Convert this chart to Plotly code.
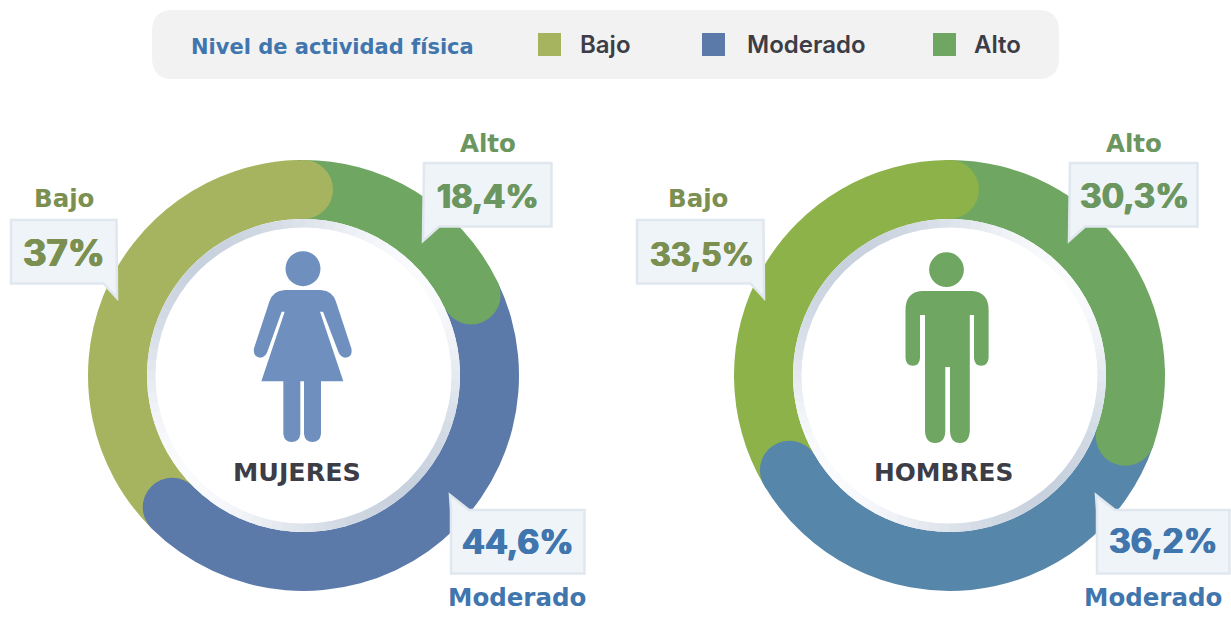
import math
import numpy as np
import plotly.graph_objects as go

W, H = 1231, 619

# ---------- data ----------
categories = ["Alto", "Moderado", "Bajo"]
mujeres_values = [18.4, 44.6, 37]
hombres_values = [30.3, 36.2, 33.5]
group_names = ["MUJERES", "HOMBRES"]
legend_title = "Nivel de actividad física"
legend_labels = ["Bajo", "Moderado", "Alto"]

# ---------- style ----------
FONT = "Inter"
WIDE = "DejaVu Sans"
DARK = "#3c3d47"
BLUE = "#4076ad"
GREEN_LBL = "#6c9660"
OLIVE_LBL = "#7a8f50"
mujeres_colors = ["#6ea662", "#5b79a9", "#a7b45f"]
hombres_colors = ["#6ea662", "#5786ab", "#8db24a"]
legend_colors = ["#a7b45f", "#5b79a9", "#6ea662"]

CY = 375.5
R_OUT = 215.5
R_BEZ = 156.5
R_WHITE = 148.0
R_MID = (R_OUT + R_BEZ) / 2
R_CAP = (R_OUT - R_BEZ) / 2


def px(x):
    return x / W


def py(y):
    return 1 - y / H


def P(*tok):
    """Build a paper-space SVG path from pixel coordinates."""
    out, is_x = [], True
    for t in tok:
        if isinstance(t, str):
            out.append(t)
            is_x = True
        else:
            out.append(f"{px(t) if is_x else py(t):.5f}")
            is_x = not is_x
    return " ".join(out)


shapes, annots = [], []


def add_path(path, fill, line=None, lw=0):
    shapes.append(dict(type="path", xref="paper", yref="paper", path=path, fillcolor=fill,
                       line=dict(color=line or "rgba(0,0,0,0)", width=lw), layer="above"))


def add_circle(cx, cy, r, fill, ry=None):
    ry = ry or r
    shapes.append(dict(type="circle", xref="paper", yref="paper",
                       x0=px(cx - r), x1=px(cx + r), y0=py(cy + ry), y1=py(cy - ry),
                       fillcolor=fill, line=dict(width=0), layer="above"))


def add_rect(x0, y0, x1, y1, fill):
    shapes.append(dict(type="rect", xref="paper", yref="paper",
                       x0=px(x0), x1=px(x1), y0=py(y1), y1=py(y0),
                       fillcolor=fill, line=dict(width=0), layer="above"))


def add_text(x, y, text, size, color, weight=700, anchor="center", family=FONT, heavy=False):
    font = dict(family=family, size=size, color=color, weight=weight)
    if heavy:
        font["shadow"] = f"0.7px 0 0 {color}, -0.7px 0 0 {color}"
    annots.append(dict(xref="paper", yref="paper", x=px(x), y=py(y), text=text, showarrow=False,
                       xanchor=anchor, yanchor="middle", font=font))


def round_rect(x0, y0, x1, y1, r, fill):
    add_path(P("M", x0 + r, y0, "L", x1 - r, y0, "Q", x1, y0, x1, y0 + r, "L", x1, y1 - r,
               "Q", x1, y1, x1 - r, y1, "L", x0 + r, y1, "Q", x0, y1, x0, y1 - r,
               "L", x0, y0 + r, "Q", x0, y0, x0 + r, y0, "Z"), fill)


def bezel(cx):
    n = 90
    for i in range(n):
        a0, a1 = 2 * math.pi * i / n, 2 * math.pi * (i + 1.15) / n
        t = 0.5 + 0.5 * math.cos(2 * ((a0 + a1) / 2 - math.radians(50)))
        c0, c1 = np.array([0xc8, 0xd2, 0xde]), np.array([0xfa, 0xfb, 0xfd])
        c = c0 + (c1 - c0) * t
        pts = []
        for r, a in ((R_BEZ, a0), (R_BEZ, a1), (R_WHITE - 0.5, a1), (R_WHITE - 0.5, a0)):
            pts.append((cx + r * math.sin(a), CY - r * math.cos(a)))
        add_path(P("M", *pts[0], "L", *pts[1], "L", *pts[2], "L", *pts[3], "Z"),
                 f"rgb({c[0]:.0f},{c[1]:.0f},{c[2]:.0f})")


def caps(cx, values, colors, rotation):
    cum = np.cumsum(values)
    for i, (v, col) in enumerate(zip(cum, colors)):
        # the closing cap always sits at twelve o'clock
        off = 0 if i == len(values) - 1 else rotation
        a = 2 * math.pi * v / sum(values) + math.radians(off)
        add_circle(cx + R_MID * math.sin(a), CY - R_MID * math.cos(a), R_CAP, col)


def callout(x0, y0, x1, y1, side, tip):
    fill, border = "#eff4f8", "#e0e7ee"
    x0 += 1; y0 += 1; x1 -= 0.5; y1 -= 0.5
    if side == "bl":      # pointer from the lower-left corner
        path = P("M", x0, y0, "L", x1, y0, "L", x1, y1, "L", x0 + 15, y1, "L", *tip, "Z")
    elif side == "br":    # pointer from the lower-right corner
        path = P("M", x0, y0, "L", x1, y0, "L", *tip, "L", x1 - 13, y1, "L", x0, y1, "Z")
    else:                 # pointer from the upper-left corner
        path = P("M", x0, y0 - 0, "L", *tip, "L", x0 + 18, y0, "L", x1, y0, "L", x1, y1, "L", x0, y1, "Z")
    add_path(path, fill, border, 2.5)


def woman():
    add_circle(303, 268.7, 17.5, "#6f90bf")
    Z = lambda x, y: (x / 3 + 230, y / 3 + 240)
    add_path(P("M", *Z(165, 150), "Q", *Z(128, 152), *Z(118, 185), "L", *Z(72, 325),
               "Q", *Z(68, 350), *Z(90, 353), "Q", *Z(106, 352), *Z(112, 335),
               "L", *Z(155, 215), "L", *Z(164, 215), "L", *Z(94, 424), "L", *Z(160, 424),
               "L", *Z(160, 582), "Q", *Z(163, 606), *Z(185, 606), "Q", *Z(208, 606), *Z(211, 582),
               "L", *Z(211, 424), "L", *Z(222, 424), "L", *Z(222, 582), "Q", *Z(225, 606), *Z(247, 606),
               "Q", *Z(270, 606), *Z(273, 582), "L", *Z(273, 424), "L", *Z(340, 424), "L", *Z(270, 215),
               "L", *Z(279, 215), "L", *Z(325, 335), "Q", *Z(331, 352), *Z(347, 353),
               "Q", *Z(369, 350), *Z(364, 325), "L", *Z(318, 185), "Q", *Z(308, 152), *Z(272, 150), "Z"),
             "#6f90bf")


def man():
    c = "#6ea662"
    add_circle(946.5, 269.7, 17.4, c)
    add_path(P("M", 922, 291, "L", 972, 291, "Q", 988.6, 292, 988.6, 310, "L", 988.6, 358,
               "Q", 988, 365.7, 981, 365.7, "Q", 974.5, 365.7, 974, 358, "L", 974, 315, "L", 969.8, 315,
               "L", 969.8, 431, "Q", 969, 443, 960, 443, "Q", 950.5, 443, 950, 431, "L", 950, 367,
               "L", 945.3, 367, "L", 945.3, 431, "Q", 945, 443, 935, 443, "Q", 925.5, 443, 925, 431,
               "L", 925, 315, "L", 920, 315, "L", 920, 358, "Q", 919.5, 365.7, 913, 365.7,
               "Q", 906, 365.7, 905.5, 358, "L", 905.5, 310, "Q", 905.5, 292, 922, 291, "Z"), c)


def pct(v):
    return f"{v:g}".replace(".", ",") + "%"


# ---------- legend band ----------
round_rect(152, 10, 1059, 79, 21, "#f2f2f2")
add_text(332, 47, legend_title, 21, BLUE, family=WIDE)
for sx, tx, name, col in zip((538, 702, 933), (578, 745, 972), legend_labels, legend_colors):
    add_rect(sx, 33, sx + 23, 56, col)
    add_text(tx, 45, name, 24, DARK, 600, "left")

# ---------- rings ----------
fig = go.Figure()
panels = [
    (303.5, mujeres_values, mujeres_colors, -1.9),
    (949.5, hombres_values, hombres_colors, 0),
]
for cx, vals, cols, rot in panels:
    fig.add_trace(go.Pie(
        labels=categories, values=vals, sort=False, direction="clockwise", rotation=rot,
        hole=R_BEZ / R_OUT, textinfo="none", showlegend=False,
        marker=dict(colors=cols, line=dict(width=0)),
        domain=dict(x=[px(cx - R_OUT), px(cx + R_OUT)], y=[py(CY + R_OUT), py(CY - R_OUT)]),
    ))
    caps(cx, vals, cols, rot)
    bezel(cx)
    add_circle(cx, CY, R_WHITE, "#ffffff")

woman()
man()
add_text(297, 472, group_names[0], 25.4, DARK, family=WIDE)
add_text(943.5, 472, group_names[1], 24.8, DARK, family=WIDE)

# ---------- call-outs (Alto, Moderado, Bajo order follows the value arrays) ----------
boxes = [
    [(423, 162, 552, 227, "bl", (423, 241), 487.5, 196, 143, 488, GREEN_LBL, 33),
     (450, 509, 585, 574, "tl", (450, 495), 517.5, 541, 597, 517, BLUE, 34),
     (10, 219, 117, 284, "br", (117, 298), 63.5, 253, 198, 64, OLIVE_LBL, 36.5)],
    [(1069, 162, 1198, 227, "bl", (1069, 241), 1134, 196, 143, 1134, GREEN_LBL, 33.5),
     (1096, 509, 1230, 574, "tl", (1096, 495), 1163, 541, 597, 1153, BLUE, 33.5),
     (636, 219, 764, 284, "br", (764, 298), 702, 254, 198, 698, OLIVE_LBL, 32)],
]
for vals, group in zip((mujeres_values, hombres_values), boxes):
    for v, name, b in zip(vals, categories, group):
        x0, y0, x1, y1, side, tip, tx, ty, ly, lx, col, size = b
        callout(x0, y0, x1, y1, side, tip)
        add_text(tx, ty, pct(v), size, col, 700, heavy=True)
        add_text(lx, ly, name, 24.5, col, family=WIDE)

fig.update_layout(
    width=W, height=H, margin=dict(l=0, r=0, t=0, b=0),
    paper_bgcolor="#ffffff", plot_bgcolor="#ffffff",
    shapes=shapes, annotations=annots, showlegend=False,
)
fig.write_html("out.html", config={"displayModeBar": False},
               post_script="document.body.style.margin='0';document.body.style.overflow='hidden';")
